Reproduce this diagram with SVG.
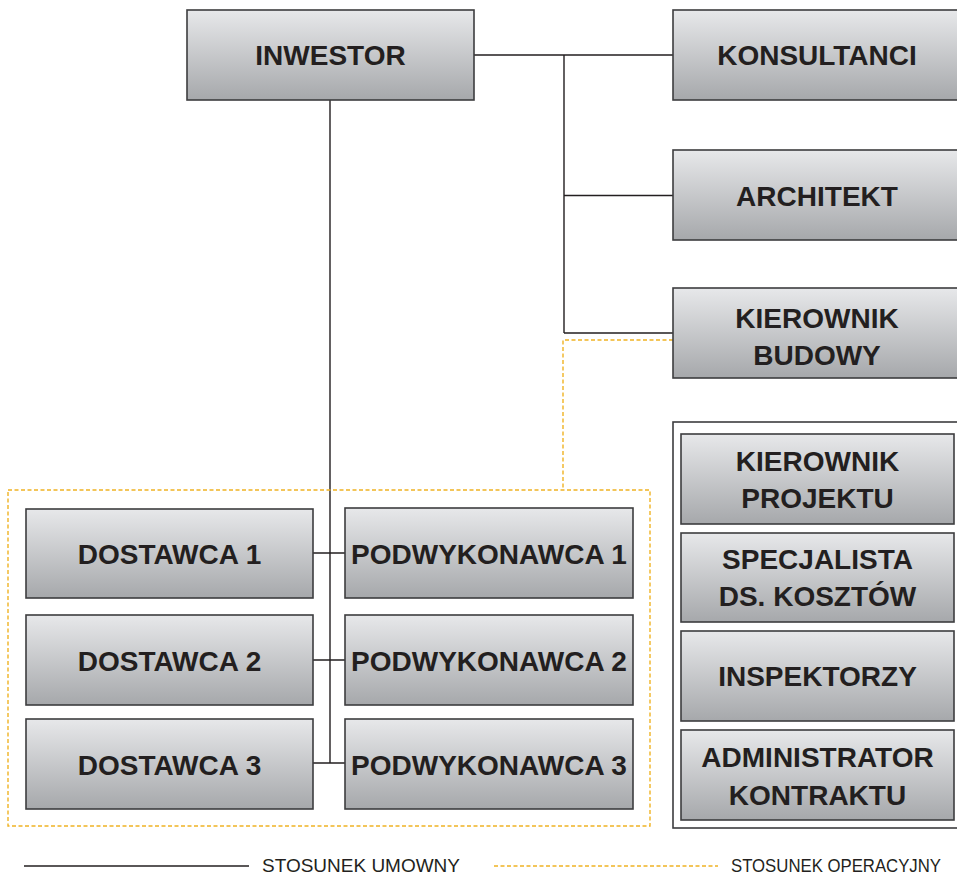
<svg xmlns="http://www.w3.org/2000/svg" width="957" height="879" viewBox="0 0 957 879">
  <style>
    .box { fill: url(#grey); stroke: #3d3d3f; stroke-width: 1.6; }
    .lbl { font-family: "Liberation Sans", Arial, sans-serif; font-weight: 700; font-size: 28px; fill: #231f20; text-anchor: middle; }
    .leg { font-family: "Liberation Sans", Arial, sans-serif; font-size: 18px; fill: #231f20; }
    .solid { fill: none; stroke: #231f20; stroke-width: 1.4; }
    .op { fill: none; stroke: #f0b323; stroke-width: 1.4; stroke-dasharray: 4 2.5; }
    .frame { fill: #ffffff; stroke: #3d3d3f; stroke-width: 1.6; }
  </style>
  <defs>
    <linearGradient id="grey" x1="0" y1="0" x2="0" y2="1">
      <stop offset="0" stop-color="#e7e8ea"/>
      <stop offset="1" stop-color="#a6a8ab"/>
    </linearGradient>
  </defs>
  <rect width="957" height="879" fill="#ffffff"/>

  <!-- connectors -->
  <g id="connectors">
    <path class="solid" d="M474 55 H673 M564 55 V333 M564 195.5 H673 M564 333 H673"/>
    <path class="solid" d="M330 100 V763 M313 553 H345 M313 660 H345 M313 763 H345"/>
    <path class="op" d="M673 340 H563 V490"/>
    <rect class="op" x="8" y="490" width="642" height="336"/>
  </g>

  <!-- project team frame -->
  <rect id="team-frame" class="frame" x="673" y="422" width="300" height="406"/>

  <g id="inwestor">
    <rect class="box" x="187" y="10" width="287" height="90"/>
    <text class="lbl" x="330.5" y="65">INWESTOR</text>
  </g>
  <g id="konsultanci">
    <rect class="box" x="673" y="10" width="290" height="90"/>
    <text class="lbl" x="817" y="65">KONSULTANCI</text>
  </g>
  <g id="architekt">
    <rect class="box" x="673" y="150" width="290" height="90"/>
    <text class="lbl" x="817" y="206">ARCHITEKT</text>
  </g>
  <g id="kierownik-budowy">
    <rect class="box" x="673" y="288" width="290" height="90"/>
    <text class="lbl" x="817" y="328">KIEROWNIK</text>
    <text class="lbl" x="817" y="365">BUDOWY</text>
  </g>

  <g id="kierownik-projektu">
    <rect class="box" x="681" y="434" width="273" height="90"/>
    <text class="lbl" x="817.5" y="471">KIEROWNIK</text>
    <text class="lbl" x="817.5" y="508">PROJEKTU</text>
  </g>
  <g id="specjalista">
    <rect class="box" x="681" y="533" width="273" height="89"/>
    <text class="lbl" x="817.5" y="569">SPECJALISTA</text>
    <text class="lbl" x="817.5" y="606">DS. KOSZTÓW</text>
  </g>
  <g id="inspektorzy">
    <rect class="box" x="681" y="631" width="273" height="90"/>
    <text class="lbl" x="817.5" y="686">INSPEKTORZY</text>
  </g>
  <g id="administrator">
    <rect class="box" x="681" y="730" width="273" height="90"/>
    <text class="lbl" x="817.5" y="767">ADMINISTRATOR</text>
    <text class="lbl" x="817.5" y="805">KONTRAKTU</text>
  </g>

  <g id="dostawca-1">
    <rect class="box" x="26" y="509" width="287" height="89"/>
    <text class="lbl" x="169.5" y="564">DOSTAWCA 1</text>
  </g>
  <g id="dostawca-2">
    <rect class="box" x="26" y="615" width="287" height="90"/>
    <text class="lbl" x="169.5" y="671">DOSTAWCA 2</text>
  </g>
  <g id="dostawca-3">
    <rect class="box" x="26" y="719" width="287" height="90"/>
    <text class="lbl" x="169.5" y="775">DOSTAWCA 3</text>
  </g>
  <g id="podwykonawca-1">
    <rect class="box" x="345" y="508" width="288" height="90"/>
    <text class="lbl" x="489" y="564">PODWYKONAWCA 1</text>
  </g>
  <g id="podwykonawca-2">
    <rect class="box" x="345" y="615" width="288" height="90"/>
    <text class="lbl" x="489" y="671">PODWYKONAWCA 2</text>
  </g>
  <g id="podwykonawca-3">
    <rect class="box" x="345" y="719" width="288" height="90"/>
    <text class="lbl" x="489" y="775">PODWYKONAWCA 3</text>
  </g>

  <!-- legend -->
  <g id="legend">
    <line class="solid" x1="24" y1="866" x2="249" y2="866" stroke-width="1.6"/>
    <text class="leg" x="262" y="872" textLength="198" lengthAdjust="spacingAndGlyphs">STOSUNEK UMOWNY</text>
    <line class="op" x1="494" y1="866" x2="718" y2="866"/>
    <text class="leg" x="731" y="872" textLength="210" lengthAdjust="spacingAndGlyphs">STOSUNEK OPERACYJNY</text>
  </g>
</svg>
